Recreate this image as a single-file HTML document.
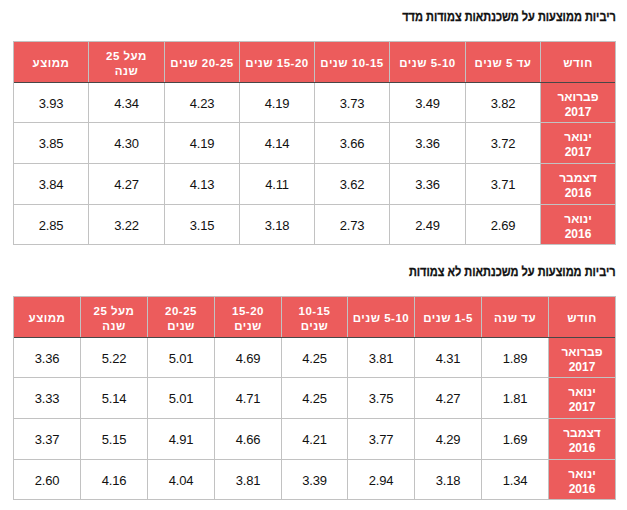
<!DOCTYPE html>
<html lang="he" dir="rtl"><head><meta charset="utf-8"><title>ריביות ממוצעות</title>
<style>
html,body{margin:0;padding:0;background:#fff;}
body{width:627px;height:510px;position:relative;overflow:hidden;font-family:"Liberation Sans", Arial, sans-serif;}
div{position:absolute;box-sizing:border-box;}
.title{right:11px;font-size:13px;font-weight:bold;color:#111;white-space:nowrap;line-height:16px;transform:scaleX(.845);transform-origin:100% 50%;-webkit-text-stroke:0.3px #111;}
.red{background:#ec5c5c;}
.c{display:flex;align-items:center;justify-content:center;text-align:center;}
.h{color:#fff;font-weight:bold;font-size:11.5px;line-height:15.5px;padding-top:4px;letter-spacing:.5px;}
.m{color:#fff;font-weight:bold;font-size:12px;line-height:15px;}
.d{color:#111;font-size:13px;letter-spacing:-.2px;}
.v{width:1px;background:#c2c2c2;}
.hl{height:1px;background:#c2c2c2;}
.hd{height:1px;background:#474747;}
</style></head><body>
<div class="title" style="top:9px">ריביות ממוצעות על משכנתאות צמודות מדד</div>
<div class="red" style="left:13px;top:41px;width:603px;height:41px"></div>
<div class="red" style="left:540px;top:82px;width:76px;height:163px"></div>
<div class="c h" style="left:541px;top:42px;width:74px;height:40px">חודש</div>
<div class="c h" style="left:466px;top:42px;width:74px;height:40px">עד 5 שנים</div>
<div class="c h" style="left:390px;top:42px;width:75px;height:40px">5-10 שנים</div>
<div class="c h" style="left:315px;top:42px;width:74px;height:40px">10-15 שנים</div>
<div class="c h" style="left:240px;top:42px;width:74px;height:40px">15-20 שנים</div>
<div class="c h" style="left:165px;top:42px;width:74px;height:40px">20-25 שנים</div>
<div class="c h" style="left:89px;top:42px;width:75px;height:40px">מעל 25<br>שנה</div>
<div class="c h" style="left:14px;top:42px;width:74px;height:40px">ממוצע</div>
<div class="c m" style="left:541px;top:83px;width:74px;height:39px;padding-top:5px">פברואר<br>2017</div>
<div class="c d" style="left:466px;top:83px;width:74px;height:39px;padding-top:2px">3.82</div>
<div class="c d" style="left:390px;top:83px;width:75px;height:39px;padding-top:2px">3.49</div>
<div class="c d" style="left:315px;top:83px;width:74px;height:39px;padding-top:2px">3.73</div>
<div class="c d" style="left:240px;top:83px;width:74px;height:39px;padding-top:2px">4.19</div>
<div class="c d" style="left:165px;top:83px;width:74px;height:39px;padding-top:2px">4.23</div>
<div class="c d" style="left:89px;top:83px;width:75px;height:39px;padding-top:2px">4.34</div>
<div class="c d" style="left:14px;top:83px;width:74px;height:39px;padding-top:2px">3.93</div>
<div class="c m" style="left:541px;top:123px;width:74px;height:40px;padding-top:3px">ינואר<br>2017</div>
<div class="c d" style="left:466px;top:123px;width:74px;height:40px;padding-top:0px">3.72</div>
<div class="c d" style="left:390px;top:123px;width:75px;height:40px;padding-top:0px">3.36</div>
<div class="c d" style="left:315px;top:123px;width:74px;height:40px;padding-top:0px">3.66</div>
<div class="c d" style="left:240px;top:123px;width:74px;height:40px;padding-top:0px">4.14</div>
<div class="c d" style="left:165px;top:123px;width:74px;height:40px;padding-top:0px">4.19</div>
<div class="c d" style="left:89px;top:123px;width:75px;height:40px;padding-top:0px">4.30</div>
<div class="c d" style="left:14px;top:123px;width:74px;height:40px;padding-top:0px">3.85</div>
<div class="c m" style="left:541px;top:164px;width:74px;height:40px;padding-top:4px">דצמבר<br>2016</div>
<div class="c d" style="left:466px;top:164px;width:74px;height:40px;padding-top:1px">3.71</div>
<div class="c d" style="left:390px;top:164px;width:75px;height:40px;padding-top:1px">3.36</div>
<div class="c d" style="left:315px;top:164px;width:74px;height:40px;padding-top:1px">3.62</div>
<div class="c d" style="left:240px;top:164px;width:74px;height:40px;padding-top:1px">4.11</div>
<div class="c d" style="left:165px;top:164px;width:74px;height:40px;padding-top:1px">4.13</div>
<div class="c d" style="left:89px;top:164px;width:75px;height:40px;padding-top:1px">4.27</div>
<div class="c d" style="left:14px;top:164px;width:74px;height:40px;padding-top:1px">3.84</div>
<div class="c m" style="left:541px;top:205px;width:74px;height:39px;padding-top:5px">ינואר<br>2016</div>
<div class="c d" style="left:466px;top:205px;width:74px;height:39px;padding-top:2px">2.69</div>
<div class="c d" style="left:390px;top:205px;width:75px;height:39px;padding-top:2px">2.49</div>
<div class="c d" style="left:315px;top:205px;width:74px;height:39px;padding-top:2px">2.73</div>
<div class="c d" style="left:240px;top:205px;width:74px;height:39px;padding-top:2px">3.18</div>
<div class="c d" style="left:165px;top:205px;width:74px;height:39px;padding-top:2px">3.15</div>
<div class="c d" style="left:89px;top:205px;width:75px;height:39px;padding-top:2px">3.22</div>
<div class="c d" style="left:14px;top:205px;width:74px;height:39px;padding-top:2px">2.85</div>
<div class="v" style="left:13px;top:41px;height:204px"></div>
<div class="v" style="left:88px;top:41px;height:204px"></div>
<div class="v" style="left:164px;top:41px;height:204px"></div>
<div class="v" style="left:239px;top:41px;height:204px"></div>
<div class="v" style="left:314px;top:41px;height:204px"></div>
<div class="v" style="left:389px;top:41px;height:204px"></div>
<div class="v" style="left:465px;top:41px;height:204px"></div>
<div class="v" style="left:540px;top:41px;height:204px"></div>
<div class="v" style="left:615px;top:41px;height:204px"></div>
<div class="hl" style="left:13px;top:41px;width:603px"></div>
<div class="hd" style="left:14px;top:82px;width:601px"></div>
<div class="hl" style="left:13px;top:122px;width:603px"></div>
<div class="hl" style="left:13px;top:163px;width:603px"></div>
<div class="hl" style="left:13px;top:204px;width:603px"></div>
<div class="hl" style="left:13px;top:244px;width:603px"></div>
<div class="title" style="top:264px">ריביות ממוצעות על משכנתאות לא צמודות</div>
<div class="red" style="left:13px;top:296px;width:603px;height:41px"></div>
<div class="red" style="left:548px;top:337px;width:68px;height:163px"></div>
<div class="c h" style="left:549px;top:297px;width:66px;height:40px">חודש</div>
<div class="c h" style="left:482px;top:297px;width:66px;height:40px">עד שנה</div>
<div class="c h" style="left:415px;top:297px;width:66px;height:40px">1-5 שנים</div>
<div class="c h" style="left:348px;top:297px;width:66px;height:40px">5-10 שנים</div>
<div class="c h" style="left:282px;top:297px;width:65px;height:40px">10-15<br>שנים</div>
<div class="c h" style="left:215px;top:297px;width:66px;height:40px">15-20<br>שנים</div>
<div class="c h" style="left:148px;top:297px;width:66px;height:40px">20-25<br>שנים</div>
<div class="c h" style="left:81px;top:297px;width:66px;height:40px">מעל 25<br>שנה</div>
<div class="c h" style="left:14px;top:297px;width:66px;height:40px">ממוצע</div>
<div class="c m" style="left:549px;top:338px;width:66px;height:39px;padding-top:5px">פברואר<br>2017</div>
<div class="c d" style="left:482px;top:338px;width:66px;height:39px;padding-top:2px">1.89</div>
<div class="c d" style="left:415px;top:338px;width:66px;height:39px;padding-top:2px">4.31</div>
<div class="c d" style="left:348px;top:338px;width:66px;height:39px;padding-top:2px">3.81</div>
<div class="c d" style="left:282px;top:338px;width:65px;height:39px;padding-top:2px">4.25</div>
<div class="c d" style="left:215px;top:338px;width:66px;height:39px;padding-top:2px">4.69</div>
<div class="c d" style="left:148px;top:338px;width:66px;height:39px;padding-top:2px">5.01</div>
<div class="c d" style="left:81px;top:338px;width:66px;height:39px;padding-top:2px">5.22</div>
<div class="c d" style="left:14px;top:338px;width:66px;height:39px;padding-top:2px">3.36</div>
<div class="c m" style="left:549px;top:378px;width:66px;height:40px;padding-top:3px">ינואר<br>2017</div>
<div class="c d" style="left:482px;top:378px;width:66px;height:40px;padding-top:0px">1.81</div>
<div class="c d" style="left:415px;top:378px;width:66px;height:40px;padding-top:0px">4.27</div>
<div class="c d" style="left:348px;top:378px;width:66px;height:40px;padding-top:0px">3.75</div>
<div class="c d" style="left:282px;top:378px;width:65px;height:40px;padding-top:0px">4.25</div>
<div class="c d" style="left:215px;top:378px;width:66px;height:40px;padding-top:0px">4.71</div>
<div class="c d" style="left:148px;top:378px;width:66px;height:40px;padding-top:0px">5.01</div>
<div class="c d" style="left:81px;top:378px;width:66px;height:40px;padding-top:0px">5.14</div>
<div class="c d" style="left:14px;top:378px;width:66px;height:40px;padding-top:0px">3.33</div>
<div class="c m" style="left:549px;top:419px;width:66px;height:40px;padding-top:4px">דצמבר<br>2016</div>
<div class="c d" style="left:482px;top:419px;width:66px;height:40px;padding-top:1px">1.69</div>
<div class="c d" style="left:415px;top:419px;width:66px;height:40px;padding-top:1px">4.29</div>
<div class="c d" style="left:348px;top:419px;width:66px;height:40px;padding-top:1px">3.77</div>
<div class="c d" style="left:282px;top:419px;width:65px;height:40px;padding-top:1px">4.21</div>
<div class="c d" style="left:215px;top:419px;width:66px;height:40px;padding-top:1px">4.66</div>
<div class="c d" style="left:148px;top:419px;width:66px;height:40px;padding-top:1px">4.91</div>
<div class="c d" style="left:81px;top:419px;width:66px;height:40px;padding-top:1px">5.15</div>
<div class="c d" style="left:14px;top:419px;width:66px;height:40px;padding-top:1px">3.37</div>
<div class="c m" style="left:549px;top:460px;width:66px;height:39px;padding-top:5px">ינואר<br>2016</div>
<div class="c d" style="left:482px;top:460px;width:66px;height:39px;padding-top:2px">1.34</div>
<div class="c d" style="left:415px;top:460px;width:66px;height:39px;padding-top:2px">3.18</div>
<div class="c d" style="left:348px;top:460px;width:66px;height:39px;padding-top:2px">2.94</div>
<div class="c d" style="left:282px;top:460px;width:65px;height:39px;padding-top:2px">3.39</div>
<div class="c d" style="left:215px;top:460px;width:66px;height:39px;padding-top:2px">3.81</div>
<div class="c d" style="left:148px;top:460px;width:66px;height:39px;padding-top:2px">4.04</div>
<div class="c d" style="left:81px;top:460px;width:66px;height:39px;padding-top:2px">4.16</div>
<div class="c d" style="left:14px;top:460px;width:66px;height:39px;padding-top:2px">2.60</div>
<div class="v" style="left:13px;top:296px;height:204px"></div>
<div class="v" style="left:80px;top:296px;height:204px"></div>
<div class="v" style="left:147px;top:296px;height:204px"></div>
<div class="v" style="left:214px;top:296px;height:204px"></div>
<div class="v" style="left:281px;top:296px;height:204px"></div>
<div class="v" style="left:347px;top:296px;height:204px"></div>
<div class="v" style="left:414px;top:296px;height:204px"></div>
<div class="v" style="left:481px;top:296px;height:204px"></div>
<div class="v" style="left:548px;top:296px;height:204px"></div>
<div class="v" style="left:615px;top:296px;height:204px"></div>
<div class="hl" style="left:13px;top:296px;width:603px"></div>
<div class="hd" style="left:14px;top:337px;width:601px"></div>
<div class="hl" style="left:13px;top:377px;width:603px"></div>
<div class="hl" style="left:13px;top:418px;width:603px"></div>
<div class="hl" style="left:13px;top:459px;width:603px"></div>
<div class="hl" style="left:13px;top:499px;width:603px"></div>
</body></html>
